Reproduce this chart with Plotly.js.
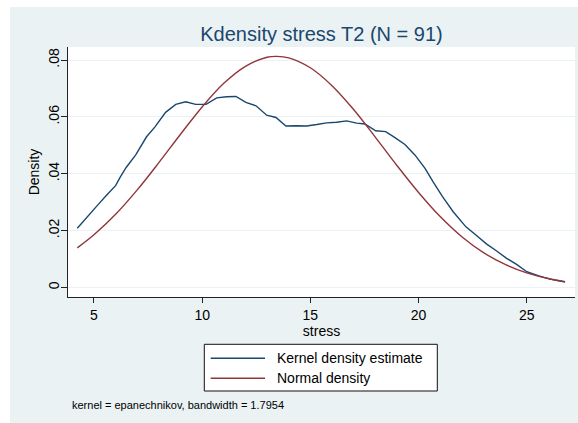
<!DOCTYPE html>
<html>
<head>
<meta charset="utf-8">
<script src="https://cdn.plot.ly/plotly-3.0.1.min.js"></script>
<style>
  html, body { margin: 0; padding: 0; background: #ffffff; }
  #chart { position: absolute; left: 10px; top: 7px; width: 568px; height: 416px; }
</style>
</head>
<body>
<div id="chart"></div>
<script>
// ---- data ----
const kdeX = [4.23, 4.74, 5.20, 5.59, 6.00, 6.20, 6.48, 6.93, 7.43, 7.82, 8.31, 8.78, 9.24, 9.70,
  10.18, 10.67, 11.13, 11.56, 12.02, 12.49, 12.98, 13.41, 13.87, 14.37, 14.83, 15.30, 15.75, 16.21,
  16.68, 17.14, 17.52, 18.02, 18.48, 18.91, 19.37, 19.83, 20.30, 20.68, 21.10, 21.60, 22.19, 22.65,
  23.15, 23.61, 24.07, 24.53, 25.00, 25.53, 26.07, 26.77];
const kdeY = [0.0208, 0.0254, 0.0292, 0.0325, 0.0358, 0.0386, 0.0421, 0.0466, 0.0530, 0.0565, 0.0616,
  0.0644, 0.0653, 0.0644, 0.0644, 0.0667, 0.0671, 0.0672, 0.0651, 0.0639, 0.0606, 0.0598, 0.0568,
  0.0569, 0.0568, 0.0573, 0.0579, 0.0581, 0.0586, 0.0578, 0.0575, 0.0551, 0.0548, 0.0527, 0.0503,
  0.0466, 0.0419, 0.0370, 0.0320, 0.0266, 0.0213, 0.0184, 0.0152, 0.0128, 0.0102, 0.0081, 0.0055,
  0.0041, 0.0029, 0.0019];

const normX = [4.23, 5, 6, 7, 8, 9, 10, 11, 12, 13, 13.45, 14, 15, 16, 17, 18, 19, 20, 21, 22, 23,
  24, 25, 26, 26.77];
const normY = [0.0139, 0.0185, 0.0257, 0.0343, 0.0439, 0.0539, 0.0635, 0.0718, 0.0778, 0.0810,
  0.0813, 0.0808, 0.0773, 0.0710, 0.0626, 0.0529, 0.0429, 0.0334, 0.0249, 0.0178, 0.0122, 0.0081,
  0.0051, 0.0031, 0.0020];

const seriesNames = ["Kernel density estimate", "Normal density"];
const xTickVals = [5, 10, 15, 20, 25];
const xTickText = ["5", "10", "15", "20", "25"];
const yTickVals = [0, 0.02, 0.04, 0.06, 0.08];
const yTickText = ["0", ".02", ".04", ".06", ".08"];
const titleText = "Kdensity stress T2 (N = 91)";
const noteText = "kernel = epanechnikov, bandwidth = 1.7954";

// ---- styling ----
const FONT = "Liberation Sans, Arial, Helvetica, sans-serif";
const BLUE = "#1a476f";
const RED = "#90353b";
const BG = "#eaf2f3";

// plot-area geometry inside the div (px)
const W = 568, H = 416;
const M = { l: 58, r: 3, t: 40, b: 126 };
const PW = W - M.l - M.r, PH = H - M.t - M.b;
const px = x => (x - M.l) / PW;          // div px -> paper x
const py = y => (H - M.b - y) / PH;      // div px -> paper y

const traces = [
  { x: kdeX, y: kdeY, type: "scatter", mode: "lines", name: seriesNames[0],
    line: { color: BLUE, width: 1.4 }, showlegend: false, hoverinfo: "skip" },
  { x: normX, y: normY, type: "scatter", mode: "lines", name: seriesNames[1],
    line: { color: RED, width: 1.4, shape: "spline", smoothing: 1 }, showlegend: false, hoverinfo: "skip" }
];

const leg = { x0: 194.3, x1: 427.3, y0: 337.3, y1: 384, lx0: 200.7, lx1: 255, tx: 265, r1: 351.3, r2: 371.3 };

const layout = {
  width: W, height: H,
  margin: M,
  paper_bgcolor: BG,
  plot_bgcolor: "#ffffff",
  font: { family: FONT, size: 14, color: "#000000" },
  title: {
    text: titleText,
    font: { family: FONT, size: 20, color: BLUE },
    x: 0.5, xref: "paper", xanchor: "center",
    y: 1 - 26.5 / H, yref: "container", yanchor: "middle"
  },
  xaxis: {
    range: [3.80, 27.23],
    tickvals: xTickVals, ticktext: xTickText,
    ticks: "outside", ticklen: 5, tickwidth: 1, tickcolor: "#222222",
    showline: true, linecolor: "#222222", linewidth: 1, mirror: false,
    showgrid: false, zeroline: false,
    tickfont: { family: FONT, size: 14, color: "#000000" },
    title: { text: "stress", font: { family: FONT, size: 14, color: "#000000" }, standoff: 1 },
    automargin: false
  },
  yaxis: {
    range: [-0.0034, 0.0846],
    tickvals: yTickVals, ticktext: yTickText,
    tickangle: -90,
    ticks: "outside", ticklen: 6, tickwidth: 1, tickcolor: "#222222",
    ticklabelstandoff: -4,
    showline: true, linecolor: "#222222", linewidth: 1,
    showgrid: true, gridcolor: BG, gridwidth: 1, zeroline: false,
    tickfont: { family: FONT, size: 14, color: "#000000" },
    title: { text: "Density", font: { family: FONT, size: 14, color: "#000000" }, standoff: 3 },
    automargin: false
  },
  showlegend: false,
  shapes: [
    { type: "rect", xref: "paper", yref: "paper",
      x0: px(leg.x0), x1: px(leg.x1), y0: py(leg.y1), y1: py(leg.y0),
      fillcolor: "#ffffff", line: { color: "#111111", width: 1 } },
    { type: "line", xref: "paper", yref: "paper",
      x0: px(leg.lx0), x1: px(leg.lx1), y0: py(leg.r1), y1: py(leg.r1),
      line: { color: BLUE, width: 1.4 } },
    { type: "line", xref: "paper", yref: "paper",
      x0: px(leg.lx0), x1: px(leg.lx1), y0: py(leg.r2), y1: py(leg.r2),
      line: { color: RED, width: 1.4 } }
  ],
  annotations: [
    { text: seriesNames[0], xref: "paper", yref: "paper", x: px(leg.tx), y: py(leg.r1),
      xanchor: "left", yanchor: "middle", showarrow: false,
      font: { family: FONT, size: 14, color: "#000000" } },
    { text: seriesNames[1], xref: "paper", yref: "paper", x: px(leg.tx), y: py(leg.r2),
      xanchor: "left", yanchor: "middle", showarrow: false,
      font: { family: FONT, size: 14, color: "#000000" } },
    { text: noteText, xref: "paper", yref: "paper", x: px(60), y: py(398),
      xanchor: "left", yanchor: "middle", showarrow: false,
      font: { family: FONT, size: 11, color: "#000000" } }
  ]
};

Plotly.newPlot("chart", traces, layout, { staticPlot: true, displayModeBar: false });
</script>
</body>
</html>
